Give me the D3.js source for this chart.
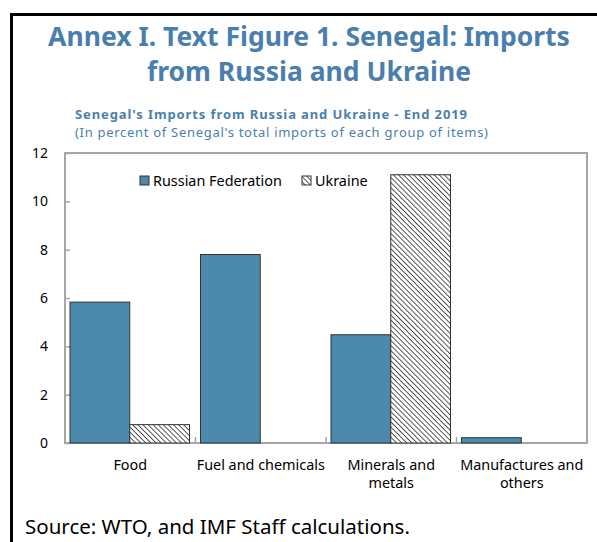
<!DOCTYPE html>
<html>
<head>
<meta charset="utf-8">
<script src="https://cdn.jsdelivr.net/npm/d3@7"></script>
<style>
  html, body { margin: 0; padding: 0; background: #fff; }
  svg { display: block; }
</style>
</head>
<body>
<svg id="chart"></svg>
<script>
const categories = [['Food'], ['Fuel and chemicals'], ['Minerals and', 'metals'], ['Manufactures and', 'others']]
const seriesNames = ['Russian Federation', 'Ukraine']
const russia = [5.83, 7.8, 4.48, 0.22]
const ukraine = [0.76, 0, 11.1, 0]
const yTicks = [0, 2, 4, 6, 8, 10, 12]

const width = 597
const height = 542
const blue = '#4a7fad'
const barBlue = '#4b8aad'

const svg = d3.select('#chart')
  .attr('width', width)
  .attr('height', height)

// hatch pattern for Ukraine
const defs = svg.append('defs')
const pat = defs.append('pattern')
  .attr('id', 'hatch')
  .attr('patternUnits', 'userSpaceOnUse')
  .attr('width', 3.6)
  .attr('height', 3.6)
  .attr('patternTransform', 'rotate(45)')
pat.append('rect').attr('width', 3.6).attr('height', 3.6).attr('fill', '#fff')
pat.append('line')
  .attr('x1', 0).attr('y1', 0).attr('x2', 3.6).attr('y2', 0)
  .attr('stroke', '#222').attr('stroke-width', 1.5)

// frame
svg.append('path')
  .attr('d', 'M11.5,542 V14.5 H597')
  .attr('fill', 'none')
  .attr('stroke', '#000')
  .attr('stroke-width', 3)

// titles
svg.append('text')
  .attr('x', 309).attr('y', 46)
  .attr('text-anchor', 'middle')
  .attr('fill', blue)
  .attr('font-family', 'Noto Sans')
  .attr('font-weight', 'bold')
  .attr('font-size', '26.5px')
  .text('Annex I. Text Figure 1. Senegal: Imports')
svg.append('text')
  .attr('x', 309).attr('y', 81)
  .attr('text-anchor', 'middle')
  .attr('fill', blue)
  .attr('font-family', 'Noto Sans')
  .attr('font-weight', 'bold')
  .attr('font-size', '26.5px')
  .text('from Russia and Ukraine')

// subtitle (stretched to the reference widths, smaller font so lines don't collide)
svg.append('text')
  .attr('x', 75).attr('y', 119)
  .attr('fill', blue)
  .attr('font-family', 'Noto Sans')
  .attr('font-weight', 'bold')
  .attr('font-size', '13px')
  .attr('textLength', 392)
  .attr('lengthAdjust', 'spacing')
  .text("Senegal's Imports from Russia and Ukraine - End 2019")
svg.append('text')
  .attr('x', 75).attr('y', 137)
  .attr('fill', blue)
  .attr('font-family', 'Noto Sans')
  .attr('font-size', '13px')
  .attr('textLength', 413)
  .attr('lengthAdjust', 'spacing')
  .text("(In percent of Senegal's total imports of each group of items)")

// scales
const x = d3.scaleBand()
  .domain(d3.range(categories.length))
  .range([65, 587])
const xSub = d3.scaleBand()
  .domain(seriesNames)
  .range([5, x.bandwidth() - 6])
const y = d3.scaleLinear().domain([0, 12]).range([443, 153])

// plot border
svg.append('rect')
  .attr('x', 65).attr('y', 153)
  .attr('width', 587 - 65).attr('height', 443 - 153)
  .attr('fill', 'none')
  .attr('stroke', '#a6a6a6')
  .attr('stroke-width', 2)

// y axis
const yAxis = svg.append('g')
  .attr('transform', 'translate(65,0)')
  .call(d3.axisLeft(y).tickValues(yTicks).tickSize(-5).tickPadding(17).tickFormat(d3.format('d')))
yAxis.select('.domain').remove()
yAxis.selectAll('line').attr('stroke', '#a6a6a6').attr('stroke-width', 1.5)
yAxis.selectAll('text')
  .attr('font-family', 'Noto Sans')
  .attr('font-size', '14px')
  .attr('fill', '#000')

// category tick marks
svg.append('g')
  .selectAll('line')
  .data(d3.range(1, categories.length))
  .join('line')
  .attr('x1', d => x(d)).attr('x2', d => x(d))
  .attr('y1', 443).attr('y2', 437)
  .attr('stroke', '#a6a6a6')
  .attr('stroke-width', 1.5)

// bars
const groups = svg.append('g')
  .selectAll('g')
  .data(categories.map((c, i) => ({ i, values: [russia[i], ukraine[i]] })))
  .join('g')
  .attr('transform', d => `translate(${x(d.i)},0)`)

groups.selectAll('rect')
  .data(d => d.values.map((v, k) => ({ key: seriesNames[k], v })))
  .join('rect')
  .filter(d => d.v > 0)
  .attr('x', d => xSub(d.key))
  .attr('y', d => y(d.v))
  .attr('width', xSub.bandwidth())
  .attr('height', d => y(0) - y(d.v))
  .attr('fill', d => d.key === 'Ukraine' ? 'url(#hatch)' : barBlue)
  .attr('stroke', '#333')
  .attr('stroke-width', 1)

// category labels
const labels = svg.append('g')
  .selectAll('text')
  .data(categories)
  .join('text')
  .attr('x', (d, i) => x(i) + x.bandwidth() / 2)
  .attr('y', 470)
  .attr('text-anchor', 'middle')
  .attr('font-family', 'Noto Sans')
  .attr('font-size', '14.4px')
  .attr('fill', '#000')
labels.selectAll('tspan')
  .data(d => d)
  .join('tspan')
  .attr('x', function () { return this.parentNode.getAttribute('x') })
  .attr('dy', (d, i) => i === 0 ? 0 : 18)
  .text(d => d)

// legend
const legendX = [140, 302]
const legend = svg.append('g')
  .selectAll('g')
  .data(seriesNames)
  .join('g')
  .attr('transform', (d, i) => `translate(${legendX[i]},176)`)
legend.append('rect')
  .attr('width', 9).attr('height', 9)
  .attr('fill', d => d === 'Ukraine' ? 'url(#hatch)' : barBlue)
  .attr('stroke', '#333')
  .attr('stroke-width', 1)
legend.append('text')
  .attr('x', 13).attr('y', 10)
  .attr('font-family', 'Noto Sans')
  .attr('font-size', '14.4px')
  .attr('fill', '#000')
  .text(d => d)

// source
svg.append('text')
  .attr('x', 25).attr('y', 534)
  .attr('font-family', 'Noto Sans')
  .attr('font-size', '20.5px')
  .attr('fill', '#000')
  .text('Source: WTO, and IMF Staff calculations.')
</script>
</body>
</html>
